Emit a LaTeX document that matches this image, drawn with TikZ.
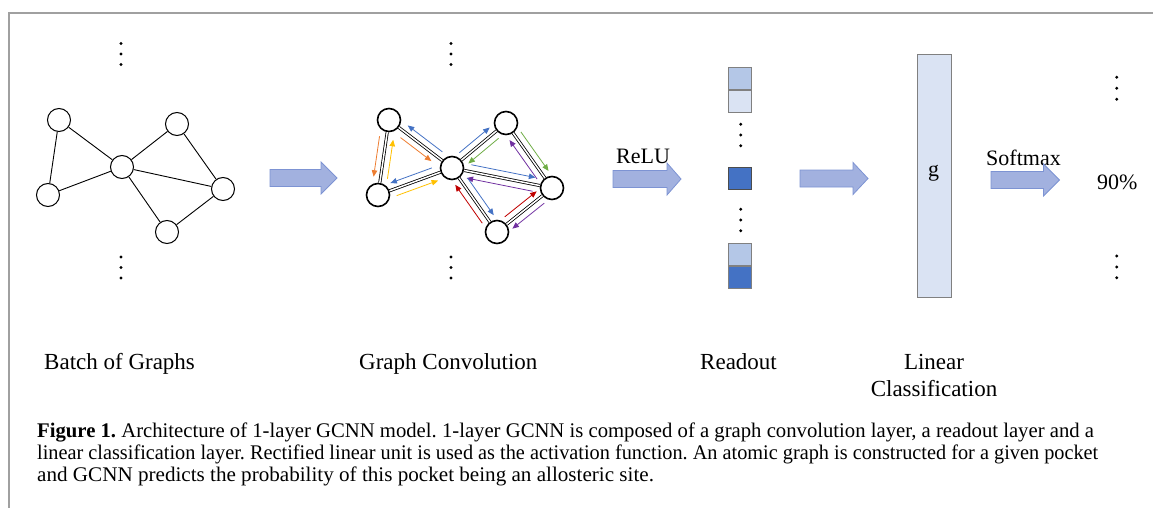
\documentclass[tikz,border=0pt]{standalone}
\usepackage{fontspec}
\setmainfont{Liberation Serif}
\usetikzlibrary{calc,arrows.meta}
\frenchspacing
\definecolor{oblue}{HTML}{4472C4}
\definecolor{oorange}{HTML}{ED7D31}
\definecolor{oyellow}{HTML}{FFC000}
\definecolor{ogreen}{HTML}{70AD47}
\definecolor{opurple}{HTML}{7030A0}
\definecolor{ored}{HTML}{C00000}
\definecolor{lightb}{HTML}{B4C7E7}
\definecolor{palelb}{HTML}{DAE3F3}
\definecolor{arrfill}{HTML}{A2B1DF}
\definecolor{arrdraw}{HTML}{7D93D3}
\definecolor{framegray}{HTML}{A0A0A0}
\newcommand\flow[6]{\draw[flowarrow,#1] ($(#2)!#5!(#3)!#4pt!90:(#3)$) -- ($(#2)!#6!(#3)!#4pt!-90:(#2)$);}
\newcommand\fatarrow[4]{\fill[arrfill,draw=arrdraw,line width=0.8] (#1,#4-8.5) -- (#2,#4-8.5) -- (#2,#4-16) -- (#3,#4) -- (#2,#4+16) -- (#2,#4+8.5) -- (#1,#4+8.5) -- cycle;}
\begin{document}
\begin{tikzpicture}[x=1pt,y=-1pt,
  gn/.style={circle,draw,line width=1,minimum size=23,inner sep=0},
  gn2/.style={circle,draw,line width=1.6,minimum size=23,inner sep=0},
  gedge/.style={line width=0.9},
  gedge2/.style={draw=black,line width=0.8,double=white,double distance=1.5},
  flowarrow/.style={line width=0.8,-{Triangle[length=6.5,width=5.5]}},
  lbl/.style={font=\fontsize{23}{27}\selectfont,inner sep=0},
  smalltxt/.style={font=\fontsize{22}{26}\selectfont,inner sep=0},
  captxt/.style={font=\fontsize{20.8}{22}\selectfont,inner sep=0},
  rbox/.style={draw=gray,line width=0.9,minimum width=22.4,minimum height=22,inner sep=0},
  dotfill/.style={fill=black}
]
\useasboundingbox (0,0) rectangle (1153,508);
\draw[framegray,line width=1.5] (9,508) -- (9,13) -- (1153,13);

% --- batch of graphs
\node[gn] (a1) at (59,120) {};
\node[gn] (b1) at (48,195) {};
\node[gn] (c1) at (122,167) {};
\node[gn] (d1) at (177,124) {};
\node[gn] (e1) at (223,189) {};
\node[gn] (f1) at (167,232) {};
\foreach \u/\v in {a1/b1,a1/c1,b1/c1,c1/d1,c1/e1,c1/f1,d1/e1,e1/f1}
  \draw[gedge] (\u) -- (\v);
\foreach \y in {43.5,54,64.5} \fill[dotfill] (121,\y) circle (1.6);
\foreach \y in {257,267.5,278} \fill[dotfill] (121,\y) circle (1.6);

\fatarrow{270}{321}{337}{178}

% --- graph convolution
\node[gn2] (a2) at (389,120) {};
\node[gn2] (b2) at (378,195) {};
\node[gn2] (c2) at (452,168) {};
\node[gn2] (d2) at (506,123) {};
\node[gn2] (e2) at (552,188) {};
\node[gn2] (f2) at (497,232) {};
\foreach \u/\v in {a2/b2,a2/c2,b2/c2,c2/d2,c2/e2,c2/f2,d2/e2,e2/f2}
  \draw[gedge2] (\u) -- (\v);
\foreach \y in {43.5,54,64.5} \fill[dotfill] (451,\y) circle (1.6);
\foreach \y in {257,267.5,278} \fill[dotfill] (451,\y) circle (1.6);

\flow{oblue}{c2}{a2}{-7}{0.22}{0.77}
\flow{oorange}{a2}{c2}{-7}{0.25}{0.74}
\flow{oorange}{a2}{b2}{-7}{0.23}{0.77}
\flow{oyellow}{b2}{a2}{-7}{0.23}{0.75}
\flow{oblue}{c2}{b2}{-7}{0.24}{0.80}
\flow{oyellow}{b2}{c2}{-7}{0.22}{0.78}
\flow{oblue}{c2}{d2}{7}{0.22}{0.78}
\flow{ogreen}{d2}{c2}{7}{0.22}{0.78}
\flow{ogreen}{d2}{e2}{7}{0.20}{0.80}
\flow{opurple}{e2}{d2}{7}{0.20}{0.80}
\flow{oblue}{c2}{e2}{7}{0.18}{0.82}
\flow{opurple}{e2}{c2}{7}{0.18}{0.84}
\flow{oblue}{c2}{f2}{7}{0.22}{0.80}
\flow{ored}{f2}{c2}{7}{0.20}{0.80}
\flow{ored}{f2}{e2}{7}{0.22}{0.80}
\flow{opurple}{e2}{f2}{7}{0.22}{0.80}

\node[smalltxt,anchor=base west] (relu) at (616,163) {ReLU};
\fatarrow{613}{667}{681}{179}

% --- readout
\node[rbox,fill=lightb,anchor=north west] (r1) at (728.3,66.7) {};
\node[rbox,fill=palelb,anchor=north] (r2) at (r1.south) {};
\foreach \y in {124.3,135,145.7} \fill[dotfill] (740.7,\y) circle (1.6);
\node[rbox,fill=oblue,draw=black!70,anchor=north west] (r3) at (728.3,167.3) {};
\foreach \y in {209.3,220,230.7} \fill[dotfill] (740.7,\y) circle (1.6);
\node[rbox,fill=lightb,anchor=north west] (r4) at (728.3,242.7) {};
\node[rbox,fill=oblue,anchor=north] (r5) at (r4.south) {};

\fatarrow{800}{853}{868}{178.5}

% --- linear classification
\node[draw=gray,line width=0.9,fill=palelb,minimum width=33.4,minimum height=243.3,anchor=north west,inner sep=0] (g) at (917.3,54) {};
\node[smalltxt] (glbl) at (933.5,173) {g};

\node[smalltxt,anchor=base west] (soft) at (986,165) {Softmax};
\fatarrow{991}{1043.5}{1059.5}{180}
\node[smalltxt,anchor=base west] (pct) at (1097,189) {90\%};
\foreach \y in {77.3,88.3,99.3} \fill[dotfill] (1116.7,\y) circle (1.6);
\foreach \y in {256,267,277.7} \fill[dotfill] (1116.7,\y) circle (1.6);

% --- labels
\node[lbl,anchor=base west] (l1) at (44,369) {Batch of Graphs};
\node[lbl,anchor=base west] (l2) at (359,369) {Graph Convolution};
\node[lbl,anchor=base west] (l3) at (700,369) {Readout};
\node[lbl,anchor=base] (l4) at (934,369) {Linear};
\node[lbl,anchor=base] (l5) at (934,396) {Classification};

% --- caption
\node[captxt,anchor=base west] (c1l) at (37,437) {\scalebox{0.995}[1]{\textbf{Figure 1.} Architecture of 1-layer GCNN model. 1-layer GCNN is composed of a graph convolution layer, a readout layer and a}};
\node[captxt,anchor=base west] (c2l) at (37,459) {\scalebox{0.975}[1]{linear classification layer. Rectified linear unit is used as the activation function. An atomic graph is constructed for a given pocket}};
\node[captxt,anchor=base west] (c3l) at (37,481) {\scalebox{1.015}[1]{and GCNN predicts the probability of this pocket being an allosteric site.}};
\end{tikzpicture}
\end{document}
